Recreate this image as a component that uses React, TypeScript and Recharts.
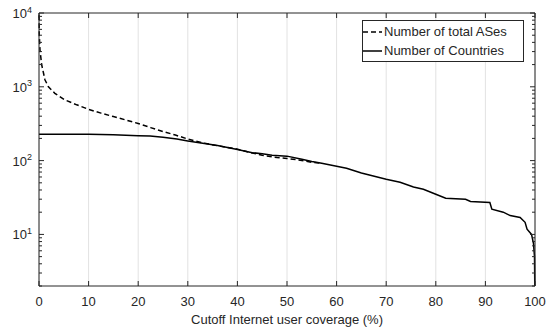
import { LineChart, Line, XAxis, YAxis, CartesianGrid, Legend } from "recharts";

// Number of total ASes vs cutoff coverage
const asCoverage = [0, 0.05, 0.2, 0.54, 1.2, 1.9, 3.2, 5.2, 7.6, 10, 12.5, 15, 17.5, 20, 22.5, 25, 27.5, 30, 33, 36, 40, 43, 45, 48, 50, 52, 55, 57];
const asCount = [12000, 5200, 3150, 1990, 1245, 1000, 815, 665, 570, 495, 440, 395, 355, 318, 280, 248, 222, 196, 174, 159, 143, 127, 118, 110, 107, 103, 95, 92];

// Number of countries vs cutoff coverage
const countryCoverage = [0, 5, 10, 15, 20, 22.4, 25, 27.8, 30, 33, 36, 40, 43, 45, 47, 50, 53, 55, 57, 60, 62, 65, 67, 70, 72.8, 75.5, 77.5, 80, 82, 86, 87, 90.9, 91.3, 93.6, 95, 97, 98, 98.4, 99.3, 99.7, 99.9, 100];
const countryCount = [228, 228, 227, 224, 218, 216, 207, 196, 185, 172, 160, 141, 128, 124, 118, 115, 104, 97, 92, 84, 79, 68, 63, 56, 51, 44, 41, 35, 31, 30, 28, 27, 22, 20, 18, 17, 14.6, 11.8, 10, 7.5, 5, 1];

const xTicks = [0, 10, 20, 30, 40, 50, 60, 70, 80, 90, 100];
const yTicks = [
  2, 3, 4, 5, 6, 7, 8, 9,
  10, 20, 30, 40, 50, 60, 70, 80, 90,
  100, 200, 300, 400, 500, 600, 700, 800, 900,
  1000, 2000, 3000, 4000, 5000, 6000, 7000, 8000, 9000,
  10000,
];

const asData = asCoverage.map((x, i) => ({ x, y: asCount[i] }));
const countryData = countryCoverage.map((x, i) => ({ x, y: countryCount[i] }));

const INK = "#262626";
const FONT = "'Liberation Sans', Arial, sans-serif";
const PLOT = { left: 39, right: 535, top: 13, bottom: 286 };

function isMajor(v: number) {
  const l = Math.log10(v);
  return Math.abs(l - Math.round(l)) < 1e-6;
}

function LeftTick(props: any) {
  const { y, payload } = props;
  const v = payload.value;
  const major = isMajor(v);
  return (
    <g>
      <line x1={PLOT.left} x2={PLOT.left + (major ? 5 : 3)} y1={y} y2={y} stroke={INK} strokeWidth={1} />
      {major && (
        <text x={PLOT.left - 7} y={y + 5} textAnchor="end" fontSize={13} fill={INK} fontFamily={FONT}>
          10
          <tspan dy={-5.5} fontSize={9}>
            {Math.round(Math.log10(v))}
          </tspan>
        </text>
      )}
    </g>
  );
}

function RightTick(props: any) {
  const { y, payload } = props;
  const major = isMajor(payload.value);
  return <line x1={PLOT.right - (major ? 5 : 3)} x2={PLOT.right} y1={y} y2={y} stroke={INK} strokeWidth={1} />;
}

function BottomTick(props: any) {
  const { x, payload } = props;
  return (
    <g>
      <line x1={x} x2={x} y1={PLOT.bottom} y2={PLOT.bottom - 5} stroke={INK} strokeWidth={1} />
      <text x={x} y={PLOT.bottom + 20} textAnchor="middle" fontSize={13} fill={INK} fontFamily={FONT}>
        {payload.value}
      </text>
    </g>
  );
}

function TopTick(props: any) {
  const { x } = props;
  return <line x1={x} x2={x} y1={PLOT.top} y2={PLOT.top + 5} stroke={INK} strokeWidth={1} />;
}

function LegendBox() {
  const rows = [
    { label: "Number of total ASes", dash: "5 3" },
    { label: "Number of Countries", dash: undefined },
  ];
  return (
    <div
      style={{
        border: `1px solid ${INK}`,
        background: "#fff",
        width: 160,
        height: 38,
        boxSizing: "content-box",
        fontFamily: FONT,
        fontSize: 13,
        color: INK,
        padding: "1px 0",
      }}
    >
      {rows.map((r) => (
        <div key={r.label} style={{ display: "flex", alignItems: "center", height: 19 }}>
          <svg width={20} height={10} style={{ marginRight: 1 }}>
            <line x1={0} x2={19} y1={5} y2={5} stroke="#000" strokeWidth={1.5} strokeDasharray={r.dash} />
          </svg>
          <span style={{ whiteSpace: "nowrap" }}>{r.label}</span>
        </div>
      ))}
    </div>
  );
}

export default function App() {
  return (
    <div style={{ position: "absolute", left: 0, top: 0, width: 554, height: 332, background: "#fff" }}>
      <LineChart width={554} height={332} margin={{ top: 12, right: 18, left: 0, bottom: 0 }}>
        <CartesianGrid horizontal={false} stroke="#e2e2e2" />
        <XAxis
          dataKey="x"
          type="number"
          domain={[0, 100]}
          ticks={xTicks}
          interval={0}
          height={46}
          tick={<BottomTick />}
          tickLine={false}
          axisLine={{ stroke: INK }}
          label={{
            value: "Cutoff Internet user coverage (%)",
            position: "insideBottom",
            offset: 8,
            fontSize: 13,
            fill: INK,
            fontFamily: FONT,
          }}
        />
        <XAxis
          xAxisId="t"
          dataKey="x"
          orientation="top"
          type="number"
          domain={[0, 100]}
          ticks={xTicks}
          interval={0}
          height={1}
          tick={<TopTick />}
          tickLine={false}
          axisLine={{ stroke: INK }}
        />
        <YAxis
          type="number"
          scale="log"
          domain={[2, 10000]}
          allowDataOverflow
          ticks={yTicks}
          interval={0}
          width={39}
          tick={<LeftTick />}
          tickLine={false}
          axisLine={{ stroke: INK }}
        />
        <YAxis
          yAxisId="r"
          orientation="right"
          type="number"
          scale="log"
          domain={[2, 10000]}
          allowDataOverflow
          ticks={yTicks}
          interval={0}
          width={1}
          tick={<RightTick />}
          tickLine={false}
          axisLine={{ stroke: INK }}
        />
        <Legend
          layout="horizontal"
          verticalAlign="middle"
          align="center"
          content={<LegendBox />}
          wrapperStyle={{ position: "absolute", left: 362, top: 20, width: "auto" }}
        />
        <Line
          data={asData}
          dataKey="y"
          type="linear"
          stroke="#000"
          strokeWidth={1.5}
          strokeDasharray="5 3"
          dot={false}
          isAnimationActive={false}
        />
        <Line
          data={countryData}
          dataKey="y"
          xAxisId="t"
          yAxisId="r"
          type="linear"
          stroke="#000"
          strokeWidth={1.5}
          dot={false}
          isAnimationActive={false}
        />
      </LineChart>
    </div>
  );
}
